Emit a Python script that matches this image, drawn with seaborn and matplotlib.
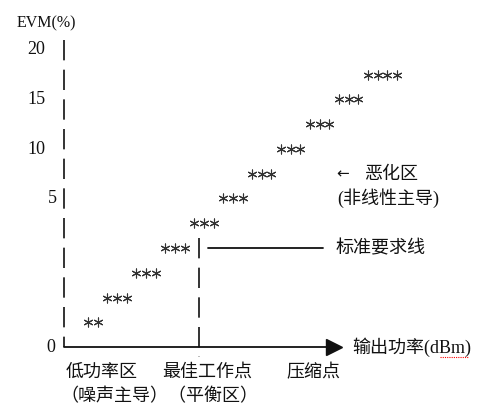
import numpy as np
import pandas as pd
import matplotlib
matplotlib.use("Agg")
import matplotlib.pyplot as plt
import seaborn as sns

# EVM 随输出功率变化的示意图（字符画风格）
sns.set_theme(style="white")
plt.rcParams["font.family"] = ["Liberation Serif", "Noto Sans CJK SC", "DejaVu Sans"]

# 1. 数据
evm_ticks = ["0", "5", "10", "15", "20"]
evm_rows = [0, 6, 8, 10, 12]              # 纵轴刻度所在的行
star_counts = [2, 3, 3, 3, 3, 3, 3, 3, 3, 3, 4]   # 每行的星号个数
star_rows = list(range(1, len(star_counts) + 1))
star_start = 2 + np.concatenate([[0], np.cumsum(star_counts[:-1])])

zone_labels = ["低功率区", "最佳工作点", "压缩点"]
zone_notes = "（噪声主导）（平衡区）"
bad_zone = "恶化区"
bad_note = "(非线性主导)"
std_line_label = "标准要求线"
x_label = "输出功率(dBm)"
y_label = "EVM(%)"

# 星号展开成点
pts = []
for r, c0, n in zip(star_rows, star_start, star_counts):
    for i in range(n):
        pts.append({"col": c0 + 0.5 + i, "row": r})
df = pd.DataFrame(pts)

# 2. 画布（列宽 ~9.65px，行高 ~24.75px）
fig = plt.figure(figsize=(4.85, 4.17), dpi=100)
ax = fig.add_axes([0, 0, 1, 1])
ax.set_xlim(-64 / 9.65, (485 - 64) / 9.65)
ax.set_ylim((347 - 417) / 24.75, 347 / 24.75)
ax.axis("off")

ink = "#111111"
fs = 13
cjk = ["Noto Sans CJK SC"]
mix = ["Liberation Serif", "Noto Sans CJK SC"]

# 坐标轴
ax.plot([0, 0], [12.4, 0], color=ink, lw=1.2, ls=(0, (12.2, 5.6)))
ax.plot([0, 27.3], [0, 0], color=ink, lw=1.3)
ax.plot([28.0], [0], marker=">", color=ink, markersize=11)

# 最佳工作点的竖线 与 标准要求线
ax.plot([14, 14], [4.4, -0.4], color=ink, lw=1.2, ls=(0, (12.2, 5.6)))
ax.plot([14.9, 26.8], [4, 4], color=ink, lw=1.3)

# 星号曲线
sns.scatterplot(data=df, x="col", y="row", marker=(6, 2, 0), s=42,
                color="#333333", edgecolor="#333333", linewidth=0.8,
                ax=ax, legend=False)

# 纵轴刻度
tick_cols = [-1.87, -1.66, -3.83, -3.83, -3.83]
for lab, r, c in zip(evm_ticks, evm_rows, tick_cols):
    ax.text(c, r, lab, fontsize=fs, ha="left", va="center", color=ink,
            family=["Liberation Serif"])
ax.text(-4.87, 13.09, y_label, fontsize=11.5, ha="left", va="center",
        color=ink, family=["Liberation Serif"])

# 右侧标注
ax.text(28.2, 7, "←", fontsize=11, ha="left", va="center", color=ink,
        family=["DejaVu Sans"])
ax.text(31.1, 7, bad_zone, fontsize=fs, ha="left", va="center", color=ink,
        family=cjk, weight="light")
ax.text(28.3, 6, bad_note, fontsize=fs, ha="left", va="center", color=ink,
        family=mix, weight="light")
ax.text(28.1, 4, std_line_label, fontsize=fs, ha="left", va="center", color=ink,
        family=cjk, weight="light")
ax.text(29.9, 0, x_label, fontsize=fs, ha="left", va="center", color=ink,
        family=mix, weight="light")
ax.plot([38.96, 41.87], [-0.42, -0.42], color="red", lw=0.8, ls=(0, (1, 1)))

# 底部区域说明
for lab, c in zip(zone_labels, [0.2, 10.15, 23.1]):
    ax.text(c, -1, lab, fontsize=fs, ha="left", va="center", color=ink,
            family=cjk, weight="light")
ax.text(-0.4, -2, zone_notes, fontsize=fs, ha="left", va="center", color=ink,
        family=cjk, weight="light")

fig.savefig("out.png", dpi=100, facecolor="white")
